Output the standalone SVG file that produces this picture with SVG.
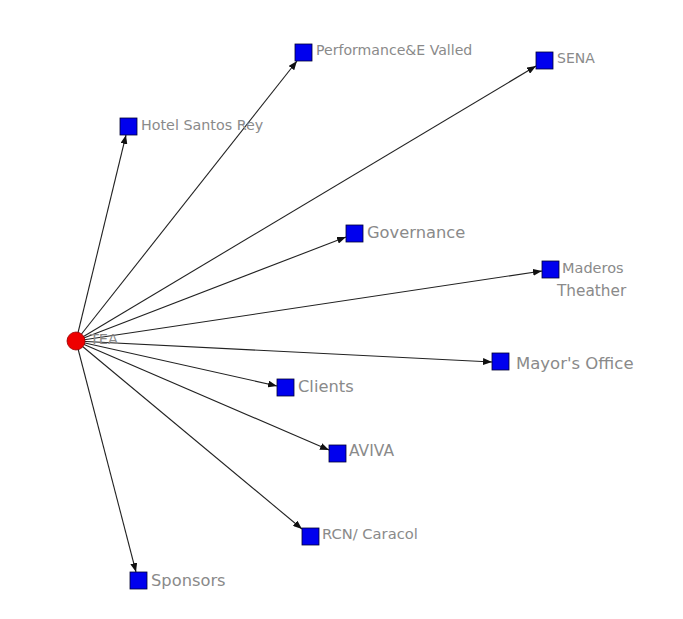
<svg xmlns="http://www.w3.org/2000/svg" width="683" height="619" viewBox="0 0 683 619">
<style>
.edge{stroke:#222;stroke-width:1.1;fill:none;marker-end:url(#ah)}
.sq{fill:#0000ee;stroke:#000033;stroke-width:0.8}
.lbl{font-family:"DejaVu Sans","Liberation Sans",sans-serif;font-size:14px;fill:#8a8a8a}
</style>
<defs>
<marker id="ah" markerUnits="userSpaceOnUse" markerWidth="9" markerHeight="7" refX="9" refY="3.5" orient="auto">
<path d="M0,0 L9,3.5 L0,7 z" fill="#111"/>
</marker>
</defs>
<rect width="683" height="619" fill="#fff"/>
<g id="edges">
<line class="edge" x1="76" y1="341" x2="126" y2="135"/>
<line class="edge" x1="76" y1="341" x2="297" y2="61"/>
<line class="edge" x1="76" y1="341" x2="536" y2="66"/>
<line class="edge" x1="76" y1="341" x2="346" y2="237"/>
<line class="edge" x1="76" y1="341" x2="542" y2="271"/>
<line class="edge" x1="76" y1="341" x2="492" y2="362"/>
<line class="edge" x1="76" y1="341" x2="277" y2="386"/>
<line class="edge" x1="76" y1="341" x2="329" y2="450"/>
<line class="edge" x1="76" y1="341" x2="302" y2="529"/>
<line class="edge" x1="76" y1="341" x2="136" y2="572"/>
</g>
<g id="TEA">
<circle cx="76" cy="341" r="9" fill="#ee0000" stroke="#990000" stroke-width="0.8"/>
<text class="lbl" x="90" y="344" style="font-size:14.5px">TEA</text>
</g>
<g id="hotel"><rect class="sq" x="120" y="118" width="17" height="17"/><text class="lbl" x="141" y="130" style="font-size:14.3px">Hotel Santos Rey</text></g>
<g id="performance"><rect class="sq" x="295" y="44" width="17" height="17"/><text class="lbl" x="316" y="55" style="font-size:14.1px">Performance&amp;E Valled</text></g>
<g id="sena"><rect class="sq" x="536" y="52" width="17" height="17"/><text class="lbl" x="557" y="63">SENA</text></g>
<g id="governance"><rect class="sq" x="346" y="225" width="17" height="17"/><text class="lbl" x="367" y="238" style="font-size:16.3px">Governance</text></g>
<g id="maderos"><rect class="sq" x="542" y="261" width="17" height="17"/><text class="lbl" x="562" y="273" style="font-size:14.5px">Maderos</text><text class="lbl" x="557" y="296" style="font-size:15.3px">Theather</text></g>
<g id="mayor"><rect class="sq" x="492" y="353" width="17" height="17"/><text class="lbl" x="516" y="369" style="font-size:16.5px">Mayor's Office</text></g>
<g id="clients"><rect class="sq" x="277" y="379" width="17" height="17"/><text class="lbl" x="298" y="392" style="font-size:16.3px">Clients</text></g>
<g id="aviva"><rect class="sq" x="329" y="445" width="17" height="17"/><text class="lbl" x="349" y="456" style="font-size:15.5px">AVIVA</text></g>
<g id="rcn"><rect class="sq" x="302" y="528" width="17" height="17"/><text class="lbl" x="322" y="539" style="font-size:14.7px">RCN/ Caracol</text></g>
<g id="sponsors"><rect class="sq" x="130" y="572" width="17" height="17"/><text class="lbl" x="151" y="586" style="font-size:16.3px">Sponsors</text></g>
</svg>
